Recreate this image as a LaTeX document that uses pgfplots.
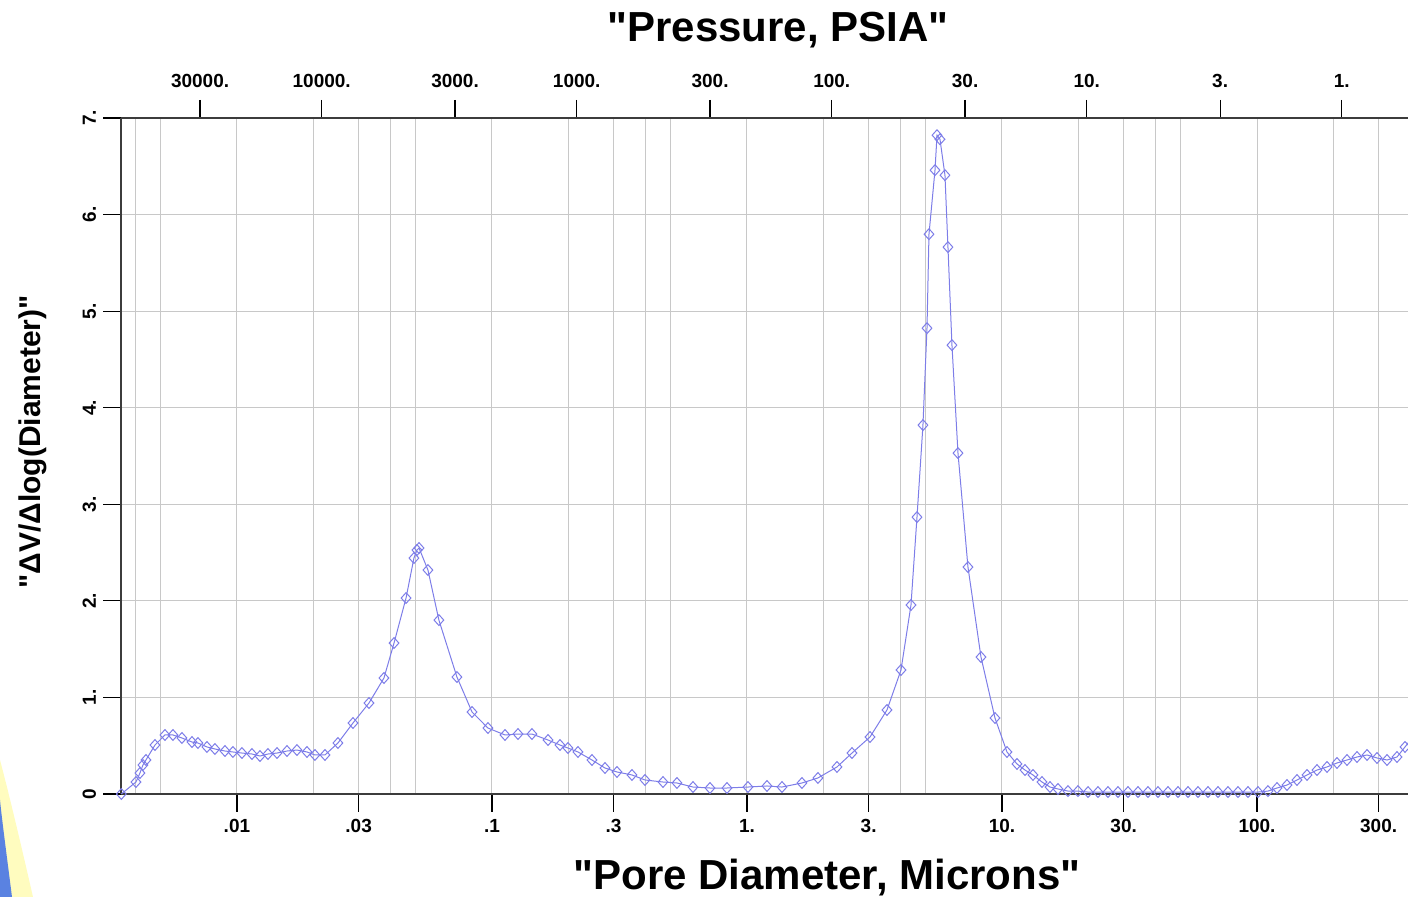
\documentclass[border=0pt]{standalone}
\usepackage{fontspec}
\setmainfont{Liberation Sans}
\usepackage{pgfplots}
\pgfplotsset{compat=1.18}
\definecolor{curve}{RGB}{125,125,232}
\definecolor{gridc}{RGB}{200,200,200}
\definecolor{axc}{RGB}{60,60,60}
\definecolor{cornerblue}{RGB}{90,130,225}
\begin{document}
\begin{tikzpicture}
% decorative corner (slide artifact)
\fill[yellow!25] (0,68.5pt) -- (0,0) -- (16.5pt,0) .. controls (10pt,28.5pt) and (4pt,53.5pt) .. (0,68.5pt);
\fill[cornerblue] (0,48.5pt) -- (0,0) -- (6pt,0) .. controls (3pt,23.5pt) and (1pt,38.5pt) .. (0,48.5pt);
\begin{axis}[
  at={(60.5pt,51.5pt)}, anchor=south west,
  scale only axis, width=643.5pt, height=338pt,
  xmode=log, xmin=0.00351, xmax=391, ymin=0, ymax=7,
  axis x line*=bottom, axis y line*=left,
  axis line style={-, axc, line width=1pt},
  tick align=outside, major tick length=9pt,
  tick style={black, line width=0.6pt},
  minor tick length=0pt,
  xtick={0.01,0.03,0.1,0.3,1,3,10,30,100,300},
  xticklabels={.01,.03,.1,.3,1.,3.,10.,30.,100.,300.},
  minor xtick={0.004,0.005,0.02,0.04,0.05,0.2,0.4,0.5,2,4,5,20,40,50,200},
  ytick={0,1,2,3,4,5,6,7},
  yticklabels={0,1.,2.,3.,4.,5.,6.,7.},
  xmajorgrids, xminorgrids, ymajorgrids,
  grid style={gridc, line width=0.5pt},
  minor grid style={gridc, line width=0.5pt},
  /pgf/number format/assume math mode=true,
  ticklabel style={font=\bfseries\fontsize{9.5}{11}\selectfont},
  yticklabel style={rotate=90, anchor=south},
  clip=true,
]
\addplot[curve, line width=0.5pt, mark=diamond, mark size=2.7pt, mark options={curve, fill=none, line width=0.5pt, xscale=1.2}] coordinates {
(0.00352,0) (0.004018,0.124) (0.004165,0.217) (0.004279,0.300) (0.004397,0.352)
(0.004770,0.507) (0.005220,0.611) (0.005610,0.611) (0.006085,0.580) (0.006664,0.538)
(0.007031,0.528) (0.007627,0.487) (0.008196,0.466) (0.008974,0.445) (0.009642,0.435)
(0.01046,0.424) (0.01145,0.414) (0.01231,0.393) (0.01323,0.414) (0.01436,0.424)
(0.01571,0.445) (0.01719,0.455) (0.01882,0.435) (0.02022,0.404) (0.02214,0.404)
(0.02489,0.528) (0.02851,0.735) (0.03294,0.942) (0.03771,1.201) (0.04130,1.563)
(0.04603,2.029) (0.04943,2.443) (0.05080,2.526) (0.05176,2.547) (0.05610,2.319)
(0.06194,1.801) (0.07290,1.211) (0.08353,0.849) (0.09645,0.683) (0.1125,0.611)
(0.1265,0.621) (0.1435,0.621) (0.1659,0.559) (0.1848,0.507) (0.1986,0.476)
(0.2174,0.435) (0.2467,0.352) (0.2775,0.269) (0.3092,0.228) (0.3540,0.197)
(0.3981,0.145) (0.4685,0.124) (0.5314,0.114) (0.6143,0.072) (0.7160,0.062)
(0.8348,0.062) (1.009,0.072) (1.198,0.083) (1.372,0.072) (1.643,0.114)
(1.898,0.166) (2.254,0.280) (2.581,0.424) (3.037,0.590) (3.540,0.870)
(4.018,1.284) (4.397,1.957) (4.642,2.867) (4.899,3.820) (5.081,4.824)
(5.173,5.797) (5.462,6.460) (5.562,6.822) (5.713,6.780) (5.976,6.408)
(6.140,5.663) (6.366,4.648) (6.722,3.530) (7.356,2.350) (8.273,1.418)
(9.387,0.787) (10.46,0.435) (11.45,0.311) (12.31,0.248) (13.23,0.197)
(14.35,0.124) (15.43,0.072) (16.58,0.052) (18.15,0.03) (19.86,0.03)
(21.75,0.02) (23.79,0.02) (26.04,0.02) (28.50,0.02) (31.20,0.02)
(34.15,0.02) (37.37,0.02) (40.90,0.02) (44.77,0.02) (49.00,0.02)
(53.63,0.02) (58.70,0.02) (64.25,0.02) (70.32,0.02) (76.96,0.02)
(84.23,0.02) (92.19,0.02) (100.9,0.02) (110.4,0.03) (119.8,0.062)
(131.1,0.093) (143.5,0.145) (157.1,0.197) (171.9,0.248) (188.2,0.280)
(205.9,0.321) (225.4,0.352) (246.7,0.383) (270.1,0.404) (295.5,0.373)
(323.5,0.352) (354.0,0.383) (380.6,0.487) (416.5,0.62)
};
\end{axis}
\begin{axis}[
  at={(60.5pt,51.5pt)}, anchor=south west,
  scale only axis, width=643.5pt, height=338pt,
  xmode=log, xmin=0.00351, xmax=391, ymin=0, ymax=7,
  axis x line*=top, axis y line=none,
  axis line style={-, axc, line width=1pt},
  tick align=outside, major tick length=9pt,
  tick style={black, line width=0.6pt},
  ytick=\empty,
  xtick={0.007167,0.0215,0.07167,0.215,0.7167,2.15,7.167,21.5,71.67,215},
  xticklabels={30000.,10000.,3000.,1000.,300.,100.,30.,10.,3.,1.},
  minor xtick={},
  /pgf/number format/assume math mode=true,
  ticklabel style={font=\bfseries\fontsize{9.5}{11}\selectfont},
  xticklabel style={yshift=2.5pt},
]
\end{axis}
\node[font=\bfseries\fontsize{21}{25}\selectfont] at (389pt,433.5pt) {\textquotedbl Pressure, PSIA\textquotedbl};
\node[font=\bfseries\fontsize{21}{25}\selectfont] at (413.5pt,9.5pt) {\textquotedbl Pore Diameter, Microns\textquotedbl};
\node[font=\bfseries\fontsize{15}{18}\selectfont, rotate=90] at (16.5pt,227.5pt) {\textquotedbl ΔV/Δlog(Diameter)\textquotedbl};
\pgfresetboundingbox
\useasboundingbox (0,0) rectangle (704pt,448.5pt);
\end{tikzpicture}
\end{document}
